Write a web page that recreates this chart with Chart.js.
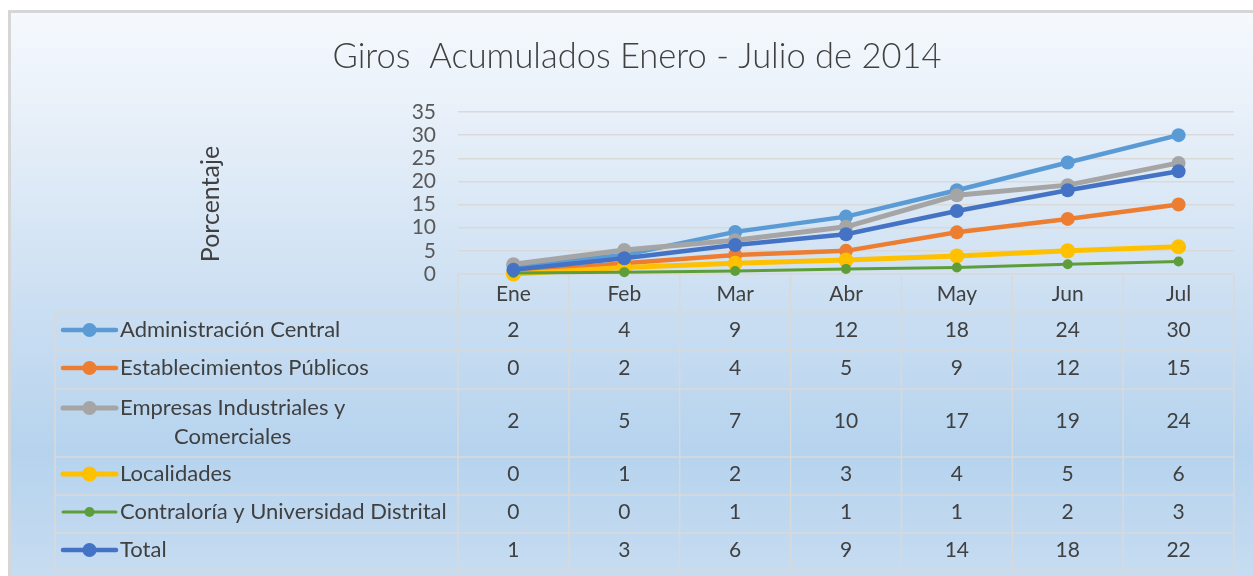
<!DOCTYPE html>
<html>
<head>
<meta charset="utf-8">
<script src="https://cdn.jsdelivr.net/npm/chart.js@4.4.1/dist/chart.umd.min.js"></script>
<style>
  html, body { margin: 0; padding: 0; background: #ffffff; }
  #giros { display: block; }
</style>
</head>
<body>
<canvas id="giros" width="1253" height="576"></canvas>
<script>
const giros_canvas = document.getElementById('giros')

const months = ['Ene', 'Feb', 'Mar', 'Abr', 'May', 'Jun', 'Jul']
const admin_central = [1.8, 4.1, 9.1, 12.4, 18.1, 24.1, 30.0]
const establecimientos = [0.3, 2.3, 4.1, 5.0, 9.0, 11.9, 15.0]
const empresas = [2.1, 5.2, 7.3, 10.2, 17.0, 19.2, 24.0]
const localidades = [0.0, 1.4, 2.3, 3.0, 3.9, 5.0, 5.9]
const contraloria = [0.2, 0.4, 0.65, 1.1, 1.4, 2.1, 2.7]
const total = [0.9, 3.4, 6.25, 8.6, 13.6, 18.1, 22.2]

const series_names = [
    ['Administración Central'],
    ['Establecimientos Públicos'],
    ['Empresas Industriales y', 'Comerciales'],
    ['Localidades'],
    ['Contraloría y Universidad Distrital'],
    ['Total'],
]
const series_values = [admin_central, establecimientos, empresas, localidades, contraloria, total]
const series_colors = ['#5b9bd5', '#ed7d31', '#a5a5a5', '#ffc000', '#5e9e3a', '#4472c4']
const line_widths = [4.5, 4.5, 5, 5, 3, 4.5]
const point_radius = [7, 7, 7, 7.5, 5, 7]

const chart_title = 'Giros  Acumulados Enero - Julio de 2014'
const y_title = 'Porcentaje'

const FONT = 'Lato, "Open Sans", sans-serif'
const TEXT_COLOR = '#404040'
const GRID_COLOR = '#d9d9d9'

// table rows under the plot: header, then one row per series
const header_height = 39
const row_heights = [38, 38, 68, 38, 38, 38]
const table_left = 55

const plugin = {
    id: 'girosTable',
    beforeDraw: (chart) => {
        const { ctx, width, height } = chart
        ctx.save()
        ctx.fillStyle = '#ffffff'
        ctx.fillRect(0, 0, width, height)
        const grad = ctx.createLinearGradient(0, 13, 0, height)
        grad.addColorStop(0, '#f5f9fd')
        grad.addColorStop(0.18, '#e8f0f9')
        grad.addColorStop(0.47, '#cfe1f3')
        grad.addColorStop(0.78, '#b6d3ee')
        grad.addColorStop(1, '#c6dcf1')
        ctx.fillStyle = grad
        ctx.fillRect(11, 12, width - 11, height - 12)
        ctx.strokeStyle = '#d6d6d6'
        ctx.lineWidth = 3
        ctx.beginPath()
        ctx.moveTo(9.5, height)
        ctx.lineTo(9.5, 11.5)
        ctx.lineTo(width, 11.5)
        ctx.stroke()

        // title
        ctx.fillStyle = TEXT_COLOR
        ctx.font = '300 34.5px ' + FONT
        ctx.textAlign = 'center'
        ctx.textBaseline = 'middle'
        ctx.fillText(chart_title, 637, 57)

        // y axis title
        ctx.translate(211, 204)
        ctx.rotate(-Math.PI / 2)
        ctx.font = '25px ' + FONT
        ctx.fillText(y_title, 0, 0)
        ctx.restore()
    },
    beforeDatasetsDraw: (chart) => {
        const { ctx, chartArea } = chart
        const x_scale = chart.scales.x
        const step = x_scale.getPixelForValue(1) - x_scale.getPixelForValue(0)
        const top = chartArea.bottom
        let bounds = [top, top + header_height]
        row_heights.forEach(h => bounds.push(bounds[bounds.length - 1] + h))
        const bottom = bounds[bounds.length - 1]

        ctx.save()
        ctx.strokeStyle = GRID_COLOR
        ctx.lineWidth = 1.5
        ctx.beginPath()
        ctx.moveTo(chartArea.left, top)
        ctx.lineTo(chartArea.right, top)
        for (let i = 1; i < bounds.length; i++) {
            ctx.moveTo(table_left, bounds[i])
            ctx.lineTo(chartArea.right, bounds[i])
        }
        ctx.moveTo(table_left, bounds[1])
        ctx.lineTo(table_left, bottom)
        for (let i = 0; i <= months.length; i++) {
            const x = x_scale.getPixelForValue(0) - step / 2 + i * step
            ctx.moveTo(x, top)
            ctx.lineTo(x, bottom)
        }
        ctx.stroke()

        ctx.fillStyle = TEXT_COLOR
        ctx.textAlign = 'center'
        ctx.textBaseline = 'middle'
        ctx.font = '21px ' + FONT
        months.forEach((m, i) => {
            ctx.fillText(m, x_scale.getPixelForValue(i), top + header_height / 2 + 1)
        })

        series_values.forEach((vals, s) => {
            const y0 = bounds[s + 1]
            const yc = y0 + row_heights[s] / 2 - 2
            ctx.fillStyle = TEXT_COLOR
            ctx.textAlign = 'center'
            ctx.font = '21px ' + FONT
            vals.forEach((v, i) => {
                ctx.fillText(String(Math.round(v)), x_scale.getPixelForValue(i), yc)
            })

            // legend key
            const names = series_names[s]
            const ky = names.length > 1 ? y0 + 19 : yc
            ctx.strokeStyle = series_colors[s]
            ctx.lineWidth = line_widths[s]
            ctx.lineCap = 'round'
            ctx.beginPath()
            ctx.moveTo(63, ky)
            ctx.lineTo(116, ky)
            ctx.stroke()
            ctx.fillStyle = series_colors[s]
            ctx.beginPath()
            ctx.arc(89.5, ky, point_radius[s], 0, Math.PI * 2)
            ctx.fill()

            ctx.fillStyle = TEXT_COLOR
            ctx.font = '22px ' + FONT
            ctx.textAlign = 'left'
            ctx.fillText(names[0], 120, ky)
            if (names.length > 1) {
                const w = ctx.measureText(names[0]).width
                ctx.textAlign = 'center'
                ctx.fillText(names[1], 120 + w / 2, ky + 29)
            }
        })
        ctx.restore()
    }
}

new Chart(giros_canvas, {
    type: 'line',
    data: {
        labels: months,
        datasets: series_values.map((vals, s) => ({
            label: series_names[s].join(' '),
            data: vals,
            borderColor: series_colors[s],
            backgroundColor: series_colors[s],
            borderWidth: line_widths[s],
            pointRadius: point_radius[s],
            pointBorderWidth: 0,
            pointBackgroundColor: series_colors[s],
            tension: 0,
            fill: false,
            clip: false,
            order: series_values.length - 1 - s,
        }))
    },
    options: {
        responsive: false,
        animation: false,
        events: [],
        layout: {
            padding: { left: 0, top: 112, right: 19, bottom: 302 }
        },
        plugins: {
            legend: { display: false },
            title: { display: false },
            tooltip: { enabled: false },
        },
        scales: {
            x: {
                display: false,
                offset: true,
            },
            y: {
                min: 0,
                max: 35,
                afterFit: (scale) => { scale.width = 458 },
                border: { display: false },
                grid: { color: GRID_COLOR, lineWidth: 1.5, drawTicks: false },
                ticks: {
                    stepSize: 5,
                    autoSkip: false,
                    padding: 22,
                    color: '#595959',
                    font: { family: 'Lato', size: 21 },
                }
            }
        }
    },
    plugins: [plugin],
})
</script>
</body>
</html>
